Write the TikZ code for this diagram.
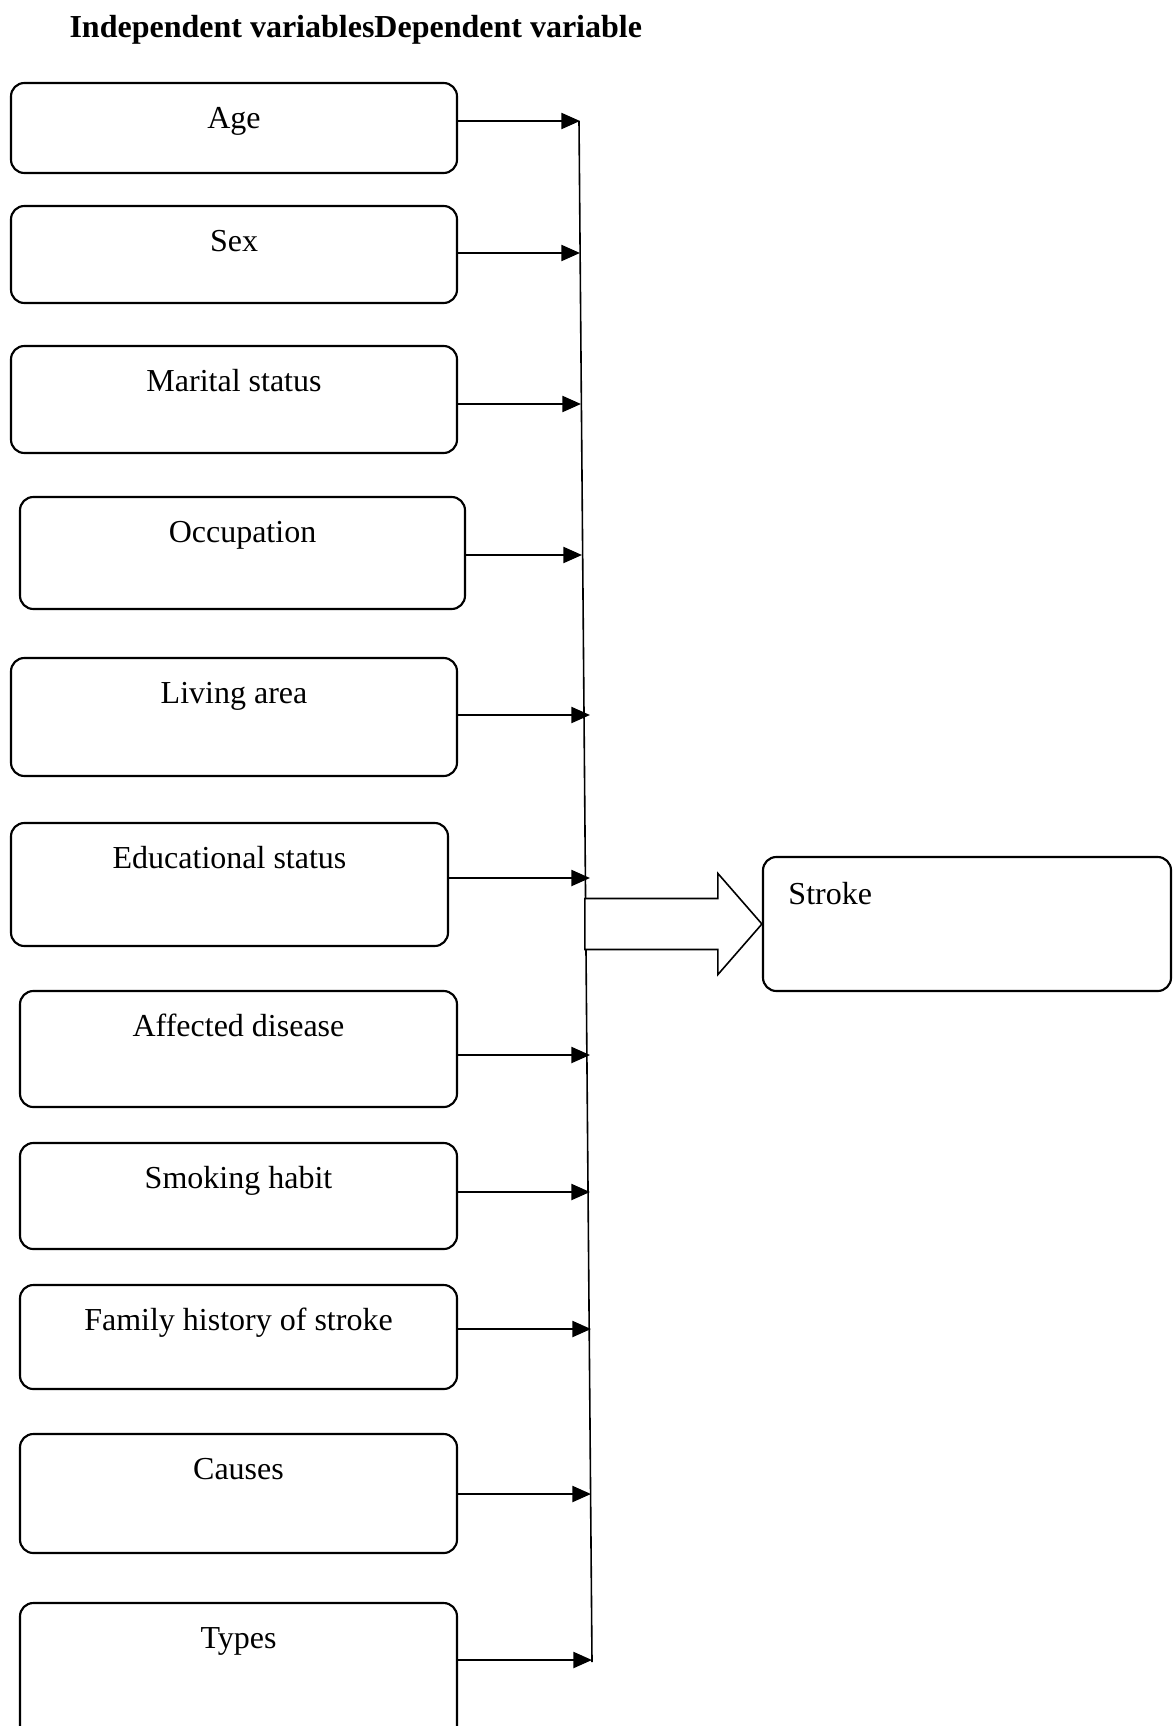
\documentclass[tikz,border=0pt]{standalone}
\usepackage{fontspec}
\setmainfont{Liberation Serif}
\usetikzlibrary{arrows.meta,fit,calc}

\begin{document}
\begin{tikzpicture}[x=0.375pt, y=-0.375pt, >={Triangle[length=7pt,width=6pt]},
                every node/.style={font=\fontsize{12}{14}\selectfont},
                box/.style={draw, rounded corners=5pt, line width=0.8pt, inner sep=0pt},
                boxtext/.style={anchor=base, yshift=-17.6pt, inner sep=0pt},
                feed/.style={->, line width=0.85pt}]
		\clip (0,0) rectangle (1173,1726);
		\node [anchor=base west, inner sep=0pt] (title) at (69,38) {\textbf{Independent variablesDependent variable}};

		\node [box, fit={(11,83) (457,173)}, label={[boxtext]north:Age}] (age) {};
		\node [box, fit={(11,206) (457,303)}, label={[boxtext]north:Sex}] (sex) {};
		\node [box, fit={(11,346) (457,453)}, label={[boxtext]north:Marital status}] (marital) {};
		\node [box, fit={(20,497) (465,609)}, label={[boxtext]north:Occupation}] (occupation) {};
		\node [box, fit={(11,658) (457,776)}, label={[boxtext]north:Living area}] (living) {};
		\node [box, fit={(11,823) (448,946)}, label={[boxtext]north:Educational status}] (education) {};
		\node [box, fit={(20,991) (457,1107)}, label={[boxtext]north:Affected disease}] (affected) {};
		\node [box, fit={(20,1143) (457,1249)}, label={[boxtext]north:Smoking habit}] (smoking) {};
		\node [box, fit={(20,1285) (457,1389)}, label={[boxtext]north:Family history of stroke}] (family) {};
		\node [box, fit={(20,1434) (457,1553)}, label={[boxtext]north:Causes}] (causes) {};
		\node [box, fit={(20,1603) (457,1760)}, label={[boxtext]north:Types}] (types) {};

		\node [box, fit={(763,857) (1171,991)},
		       label={[anchor=base west, xshift=9.75pt, yshift=-18.2pt, inner sep=0pt]north west:Stroke}] (stroke) {};

		\coordinate (bustop) at (579,121);
		\coordinate (busbot) at (592,1662);
		\draw [line width=0.6pt] (bustop) -- (busbot);

		\coordinate (inage) at (580,121);
		\coordinate (insex) at (580,253);
		\coordinate (inmarital) at (581,404);
		\coordinate (inoccupation) at (582,555);
		\coordinate (inliving) at (590,715);
		\coordinate (ineducation) at (590,878);
		\coordinate (inaffected) at (590,1055);
		\coordinate (insmoking) at (590,1192);
		\coordinate (infamily) at (591,1329);
		\coordinate (incauses) at (591,1494);
		\coordinate (intypes) at (592,1660);

		\path [feed] (age.east |- inage) edge (inage)
		      (sex.east |- insex) edge (insex)
		      (marital.east |- inmarital) edge (inmarital)
		      (occupation.east |- inoccupation) edge (inoccupation)
		      (living.east |- inliving) edge (inliving)
		      (education.east |- ineducation) edge (ineducation)
		      (affected.east |- inaffected) edge (inaffected)
		      (smoking.east |- insmoking) edge (insmoking)
		      (family.east |- infamily) edge (infamily)
		      (causes.east |- incauses) edge (incauses)
		      (types.east |- intypes) edge (intypes);

		\draw [line width=0.6pt, fill=white] (stroke.west) -- ++(-44,-50.5) -- ++(0,25) -- ++(-133,0)
		      -- ++(0,51) -- ++(133,0) -- ++(0,25) -- cycle;
\end{tikzpicture}
\end{document}
